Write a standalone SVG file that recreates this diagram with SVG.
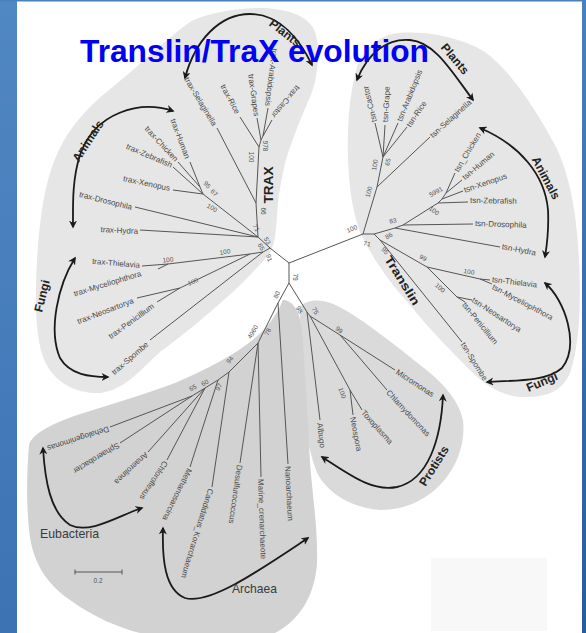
<svg xmlns="http://www.w3.org/2000/svg" width="586" height="633" viewBox="0 0 586 633">
<defs>
<linearGradient id="gl" x1="0" y1="0" x2="0" y2="1"><stop offset="0" stop-color="#5088c3"/><stop offset="1" stop-color="#3d72b3"/></linearGradient>
<linearGradient id="gr" x1="0" y1="0" x2="0" y2="1"><stop offset="0" stop-color="#4a80bf"/><stop offset="1" stop-color="#2a5a9a"/></linearGradient>
<marker id="ah" viewBox="0 0 10 10" refX="8" refY="5" markerWidth="4.5" markerHeight="4.5" orient="auto-start-reverse"><path d="M0,0 L10,5 L0,10 L3,5 z" fill="#1a1a1a"/></marker>
<style>
.lab{font-family:"Liberation Sans",Arial,sans-serif;font-size:8px;fill:#4a4a4a}
.bs{font-family:"Liberation Sans",Arial,sans-serif;font-size:6.5px;fill:#555}
.grp{font-family:"Liberation Sans",Arial,sans-serif;font-weight:bold;font-size:12px;fill:#222}
.big{font-family:"Liberation Sans",Arial,sans-serif;font-size:13px;fill:#3a3a3a}
.br{stroke:#555;stroke-width:1;fill:none}
.arr{stroke:#1a1a1a;stroke-width:1.8;fill:none;marker-start:url(#ah);marker-end:url(#ah)}
.lt{fill:#e6e6e6}
.dk{fill:#d2d2d2}
.md{fill:#dadada}
</style>
</defs>
<rect x="0" y="0" width="586" height="633" fill="#ffffff"/>
<rect x="0" y="0" width="17" height="633" fill="url(#gl)"/>
<rect x="582" y="0" width="4" height="633" fill="url(#gr)"/>
<rect x="0" y="0" width="586" height="1.5" fill="#4a80bf"/>
<rect x="431" y="558" width="116" height="73" fill="#f9f8f9"/>

<g id="regions">
<path class="lt" d="M190,22 C205,14 235,8 262,8 C292,9 312,18 316,35 C320,50 318,80 310,97 C300,120 288,150 284,168 C280,185 278,200 277,215 C276,235 274,250 266,258 C255,270 245,280 235,290 C215,308 190,330 160,352 C140,370 125,390 100,393 C75,394 55,382 45,362 C35,340 35,300 37,260 C40,215 45,180 58,152 C70,125 90,105 115,85 C140,65 165,40 190,22 Z"/>
<path class="lt" d="M357,67 C362,52 375,38 392,34 C415,30 455,34 485,52 C510,70 535,108 555,145 C570,175 577,215 579,260 C581,300 580,345 570,373 C562,392 545,398 520,397 C500,395 485,385 470,370 C450,350 430,330 410,305 C390,283 372,258 360,232 C352,210 349,185 348,160 C347,130 349,95 357,67 Z"/>
<path class="md" d="M300,307 C308,298 325,298 345,310 C370,325 395,345 420,365 C440,380 458,398 463,420 C466,445 455,470 440,485 C425,500 405,510 380,510 C355,508 333,497 320,478 C310,460 305,430 303,390 C301,360 300,330 300,307 Z"/>
<path class="dk" d="M283,300 C292,300 300,310 302,330 C305,370 308,420 310,463 C313,500 318,530 317,563 C315,595 300,620 275,633 L140,633 C120,628 95,618 70,600 C45,583 32,560 29,530 C26,500 27,470 29,445 C32,432 60,420 90,411 C120,402 150,392 175,383 C205,370 235,355 255,338 C270,325 278,312 283,300 Z"/>
</g>

<g id="connectors">
<path class="br" d="M289,263 L270,248 M289,263 L363,234 M289,263 L289,283"/>
<path class="br" d="M270,248 L263,252 L250,254 L168,264 L142,266 M168,264 L158,269 M250,254 L180,288 L137,298 M180,288 L157,302 M263,252 L150,340"/>
<path class="br" d="M270,248 L258,237 L140,230 M258,237 L135,207 M258,237 L203,194 L173,190 M203,194 L173,167 M203,194 L200,187 L178,162 M200,187 L190,162"/>
<path class="br" d="M258,237 L256,203 L217,128 M256,203 L259,147 L240,117 M259,147 L261,140 L257,118 M261,140 L263,136 L268,108 M263,136 L272,120"/>
<path class="br" d="M363,234 L377,187 L430,137 M377,187 L383,157 L375,123 M383,157 L385,125 M383,157 L398,123 M383,157 L407,127"/>
<path class="br" d="M363,234 L374,234 L395,228 L500,247 M395,228 L403,225 L473,224 M403,225 L438,203 L468,202 M438,203 L442,199 L463,191 M442,199 L446,193 L462,180 M446,193 L455,173"/>
<path class="br" d="M374,234 L380,240 L462,342 M380,240 L427,267 L480,279 L490,280 M480,279 L492,284 M427,267 L457,297 L472,300 M457,297 L465,302"/>
<path class="br" d="M289,283 L278,303 L288,464 M278,303 L258,343 L261,477 M258,343 L240,463 M258,343 L229,372 L212,487 M229,372 L218,380 L190,467 M218,380 L205,388 L148,452 M205,388 L167,460 M205,388 L192,396 L110,427 M192,396 L120,443"/>
<path class="br" d="M289,283 L307,312 L320,420 M307,312 L310,316 L340,335 L395,370 M340,335 L387,390 M310,316 L350,390 L353,415 M350,390 L362,410"/>
</g>

<g id="arrows">
<path class="arr" d="M185,78 C195,40 220,14 250,14 C280,14 300,40 312,65"/>
<path class="arr" d="M173,111 C140,100 95,112 80,155 C72,180 73,205 73,227"/>
<path class="arr" d="M75,258 C58,285 48,330 60,358 C70,375 90,377 108,377"/>
<path class="arr" d="M357,80 C368,52 388,38 410,40 C435,42 452,72 473,100"/>
<path class="arr" d="M480,128 C520,145 545,175 548,210 C549,230 547,245 545,257"/>
<path class="arr" d="M545,283 C565,300 580,345 562,368 C545,383 510,380 487,382"/>
<path class="arr" d="M322,457 C350,475 372,492 397,487 C428,480 441,440 443,395"/>
<path class="arr" d="M43,448 C45,480 50,512 70,525 C90,535 120,515 142,508"/>
<path class="arr" d="M163,528 C162,560 165,590 185,598 C210,605 260,570 308,538"/>
</g>

<g id="leaves-trax">
<g id="trax-Selaginella"><text class="lab" text-anchor="end" y="3" transform="translate(215,125) rotate(59)">trax-Selaginella</text></g>
<g id="trax-Rice"><text class="lab" text-anchor="end" y="3" transform="translate(238,113) rotate(62)">trax-Rice</text></g>
<g id="trax-Grapes"><text class="lab" text-anchor="end" y="3" transform="translate(257,116) rotate(82)">trax-Grapes</text></g>
<g id="trax-Arabidopsis"><text class="lab" text-anchor="end" y="3" transform="translate(268,106) rotate(97)">trax-Arabidopsis</text></g>
<g id="trax-Castor"><text class="lab" text-anchor="end" y="3" transform="translate(273,117) rotate(130)">trax-Castor</text></g>
<g id="trax-Human"><text class="lab" text-anchor="end" y="3" transform="translate(188,158) rotate(69)">trax-Human</text></g>
<g id="trax-Chicken"><text class="lab" text-anchor="end" y="3" transform="translate(177,160) rotate(47)">trax-Chicken</text></g>
<g id="trax-Zebrafish"><text class="lab" text-anchor="end" y="3" transform="translate(172,165) rotate(23)">trax-Zebrafish</text></g>
<g id="trax-Xenopus"><text class="lab" text-anchor="end" y="3" transform="translate(170,188) rotate(12)">trax-Xenopus</text></g>
<g id="trax-Drosophila"><text class="lab" text-anchor="end" y="3" transform="translate(132,207) rotate(14)">trax-Drosophila</text></g>
<g id="trax-Hydra"><text class="lab" text-anchor="end" y="3" transform="translate(138,231) rotate(3)">trax-Hydra</text></g>
<g id="trax-Thielavia"><text class="lab" text-anchor="end" y="3" transform="translate(140,265) rotate(5)">trax-Thielavia</text></g>
<g id="trax-Myceliophthora"><text class="lab" text-anchor="end" y="3" transform="translate(141,273) rotate(-17)">trax-Myceliophthora</text></g>
<g id="trax-Neosartorya"><text class="lab" text-anchor="end" y="3" transform="translate(133,300) rotate(-21)">trax-Neosartorya</text></g>
<g id="trax-Penicillium"><text class="lab" text-anchor="end" y="3" transform="translate(153,305) rotate(-36)">trax-Penicillium</text></g>
<g id="trax-Spombe"><text class="lab" text-anchor="end" y="3" transform="translate(147,343) rotate(-41)">trax-Spombe</text></g>
</g>

<g id="leaves-tsn">
<g id="tsn-Selaginella"><text class="lab" y="3" transform="translate(431,136) rotate(-42)">tsn-Selaginella</text></g>
<g id="tsn-Castor"><text class="lab" y="3" transform="translate(374,122) rotate(-104)">tsn-Castor</text></g>
<g id="tsn-Grape"><text class="lab" y="3" transform="translate(385,122) rotate(-87)">tsn-Grape</text></g>
<g id="tsn-Arabidopsis"><text class="lab" y="3" transform="translate(399,121) rotate(-68)">tsn-Arabidopsis</text></g>
<g id="tsn-Rice"><text class="lab" y="3" transform="translate(408,126) rotate(-56)">tsn-Rice</text></g>
<g id="tsn_Chicken"><text class="lab" y="3" transform="translate(456,171) rotate(-59)">tsn_Chicken</text></g>
<g id="tsn-Human"><text class="lab" y="3" transform="translate(463,178) rotate(-40)">tsn-Human</text></g>
<g id="tsn-Xenopus"><text class="lab" y="3" transform="translate(464,190) rotate(-19)">tsn-Xenopus</text></g>
<g id="tsn-Zebrafish"><text class="lab" y="3" transform="translate(470,200) rotate(1)">tsn-Zebrafish</text></g>
<g id="tsn-Drosophila"><text class="lab" y="3" transform="translate(475,223) rotate(2)">tsn-Drosophila</text></g>
<g id="tsn-Hydra"><text class="lab" y="3" transform="translate(502,246) rotate(11)">tsn-Hydra</text></g>
<g id="tsn-Thielavia"><text class="lab" y="3" transform="translate(492,279) rotate(7)">tsn-Thielavia</text></g>
<g id="tsn-Myceliophthora"><text class="lab" y="3" transform="translate(493,286) rotate(28)">tsn-Myceliophthora</text></g>
<g id="tsn-Neosartorya"><text class="lab" y="3" transform="translate(473,299) rotate(33)">tsn-Neosartorya</text></g>
<g id="tsn-Penicillium"><text class="lab" y="3" transform="translate(464,303) rotate(51)">tsn-Penicillium</text></g>
<g id="tsn-Spombe"><text class="lab" y="3" transform="translate(463,343) rotate(58)">tsn-Spombe</text></g>
</g>

<g id="leaves-bottom">
<g id="Dehalogenimonas"><text class="lab" y="3" transform="translate(109,429) rotate(162)">Dehalogenimonas</text></g>
<g id="Sphaerobacter"><text class="lab" y="3" transform="translate(119,445) rotate(149)">Sphaerobacter</text></g>
<g id="Anaerolinea"><text class="lab" y="3" transform="translate(147,454) rotate(137)">Anaerolinea</text></g>
<g id="Chloroflexus"><text class="lab" y="3" transform="translate(166,462) rotate(123)">Chloroflexus</text></g>
<g id="Methanosarcina"><text class="lab" y="3" transform="translate(190,469) rotate(116)">Methanosarcina</text></g>
<g id="Candidatus_Korarchaeum"><text class="lab" y="3" transform="translate(211,489) rotate(107)">Candidatus_Korarchaeum</text></g>
<g id="Desulfurococcus"><text class="lab" y="3" transform="translate(240,465) rotate(98)">Desulfurococcus</text></g>
<g id="Marine_crenarchaeote"><text class="lab" y="3" transform="translate(261,479) rotate(88)">Marine_crenarchaeote</text></g>
<g id="Nanoarchaeum"><text class="lab" y="3" transform="translate(288,466) rotate(87)">Nanoarchaeum</text></g>
</g>

<g id="leaves-protists">
<g id="Albugo"><text class="lab" y="3" transform="translate(320,423) rotate(83)">Albugo</text></g>
<g id="Neospora"><text class="lab" y="3" transform="translate(353,417) rotate(79)">Neospora</text></g>
<g id="Toxoplasma"><text class="lab" y="3" transform="translate(363,411) rotate(48)">Toxoplasma</text></g>
<g id="Chlamydomonas"><text class="lab" y="3" transform="translate(388,391) rotate(47)">Chlamydomonas</text></g>
<g id="Micromonas"><text class="lab" y="3" transform="translate(397,371) rotate(33)">Micromonas</text></g>
</g>

<g id="bootstrap" text-anchor="middle">
<text class="bs" y="2" transform="translate(168,260) rotate(-5)">100</text>
<text class="bs" y="2" transform="translate(225,252) rotate(-10)">100</text>
<text class="bs" y="2" transform="translate(193,282) rotate(-25)">100</text>
<text class="bs" y="2" transform="translate(269,258) rotate(70)">91</text>
<text class="bs" y="2" transform="translate(267,241) rotate(60)">53</text>
<text class="bs" y="2" transform="translate(261,247) rotate(60)">65</text>
<text class="bs" y="2" transform="translate(256,228) rotate(60)">71</text>
<text class="bs" y="2" transform="translate(263,211) rotate(90)">66</text>
<text class="bs" y="2" transform="translate(251,157) rotate(90)">100</text>
<text class="bs" y="2" transform="translate(265,146) rotate(90)">978</text>
<text class="bs" y="2" transform="translate(207,185) rotate(45)">95</text>
<text class="bs" y="2" transform="translate(214,193) rotate(45)">67</text>
<text class="bs" y="2" transform="translate(212,208) rotate(30)">100</text>
<text class="bs" y="2" transform="translate(352,229) rotate(-22)">100</text>
<text class="bs" y="2" transform="translate(367,244) rotate(10)">71</text>
<text class="bs" y="2" transform="translate(369,192) rotate(-75)">100</text>
<text class="bs" y="2" transform="translate(375,165) rotate(-80)">100</text>
<text class="bs" y="2" transform="translate(388,162) rotate(-80)">65</text>
<text class="bs" y="2" transform="translate(393,221) rotate(-15)">83</text>
<text class="bs" y="2" transform="translate(436,192) rotate(-30)">5991</text>
<text class="bs" y="2" transform="translate(434,211) rotate(35)">100</text>
<text class="bs" y="2" transform="translate(389,236) rotate(-30)">86</text>
<text class="bs" y="2" transform="translate(385,251) rotate(45)">95</text>
<text class="bs" y="2" transform="translate(423,258) rotate(30)">99</text>
<text class="bs" y="2" transform="translate(469,272) rotate(10)">100</text>
<text class="bs" y="2" transform="translate(440,288) rotate(40)">100</text>
<text class="bs" y="2" transform="translate(295,277) rotate(90)">79</text>
<text class="bs" y="2" transform="translate(277,295) rotate(-65)">80</text>
<text class="bs" y="2" transform="translate(253,332) rotate(-60)">4960</text>
<text class="bs" y="2" transform="translate(268,332) rotate(-65)">78</text>
<text class="bs" y="2" transform="translate(230,360) rotate(-55)">94</text>
<text class="bs" y="2" transform="translate(193,388) rotate(-30)">65</text>
<text class="bs" y="2" transform="translate(205,383) rotate(-30)">60</text>
<text class="bs" y="2" transform="translate(219,387) rotate(-60)">97</text>
<text class="bs" y="2" transform="translate(299,310) rotate(60)">98</text>
<text class="bs" y="2" transform="translate(315,311) rotate(60)">75</text>
<text class="bs" y="2" transform="translate(339,330) rotate(35)">99</text>
<text class="bs" y="2" transform="translate(342,393) rotate(70)">100</text>
</g>

<g id="groups" text-anchor="middle">
<text class="grp" y="4" transform="translate(285,33) rotate(38)">Plants</text>
<text class="grp" y="4" transform="translate(88,141) rotate(-57)">Animals</text>
<text class="grp" y="4" transform="translate(42,296) rotate(-76)">Fungi</text>
<text class="grp" y="4" transform="translate(455,59) rotate(50)">Plants</text>
<text class="grp" y="4" transform="translate(546,178) rotate(62)">Animals</text>
<text class="grp" y="4" transform="translate(542,382) rotate(-23)">Fungi</text>
<text class="grp" y="4" font-size="12.5" transform="translate(434,466) rotate(-58)">Protists</text>
<text class="grp" y="6" font-size="17" textLength="37" lengthAdjust="spacingAndGlyphs" transform="translate(267,185) rotate(-90)">TRAX</text>
<text class="grp" y="5" font-size="15" textLength="56" lengthAdjust="spacingAndGlyphs" transform="translate(403,280) rotate(58)">Translin</text>
</g>

<g id="domains">
<text class="big" x="40" y="538" textLength="59" lengthAdjust="spacingAndGlyphs">Eubacteria</text>
<text class="big" x="232" y="593" textLength="45" lengthAdjust="spacingAndGlyphs">Archaea</text>
</g>

<g id="scalebar">
<path class="br" d="M75,572 L122,572 M75,569.5 L75,574.5 M122,569.5 L122,574.5"/>
<text class="bs" x="98" y="583" text-anchor="middle">0.2</text>
</g>

<g id="title">
<text x="80" y="62" font-family="'Liberation Sans',Arial,sans-serif" font-weight="bold" font-size="31" fill="#0000f5" textLength="349" lengthAdjust="spacingAndGlyphs">Translin/TraX evolution</text>
</g>
</svg>
